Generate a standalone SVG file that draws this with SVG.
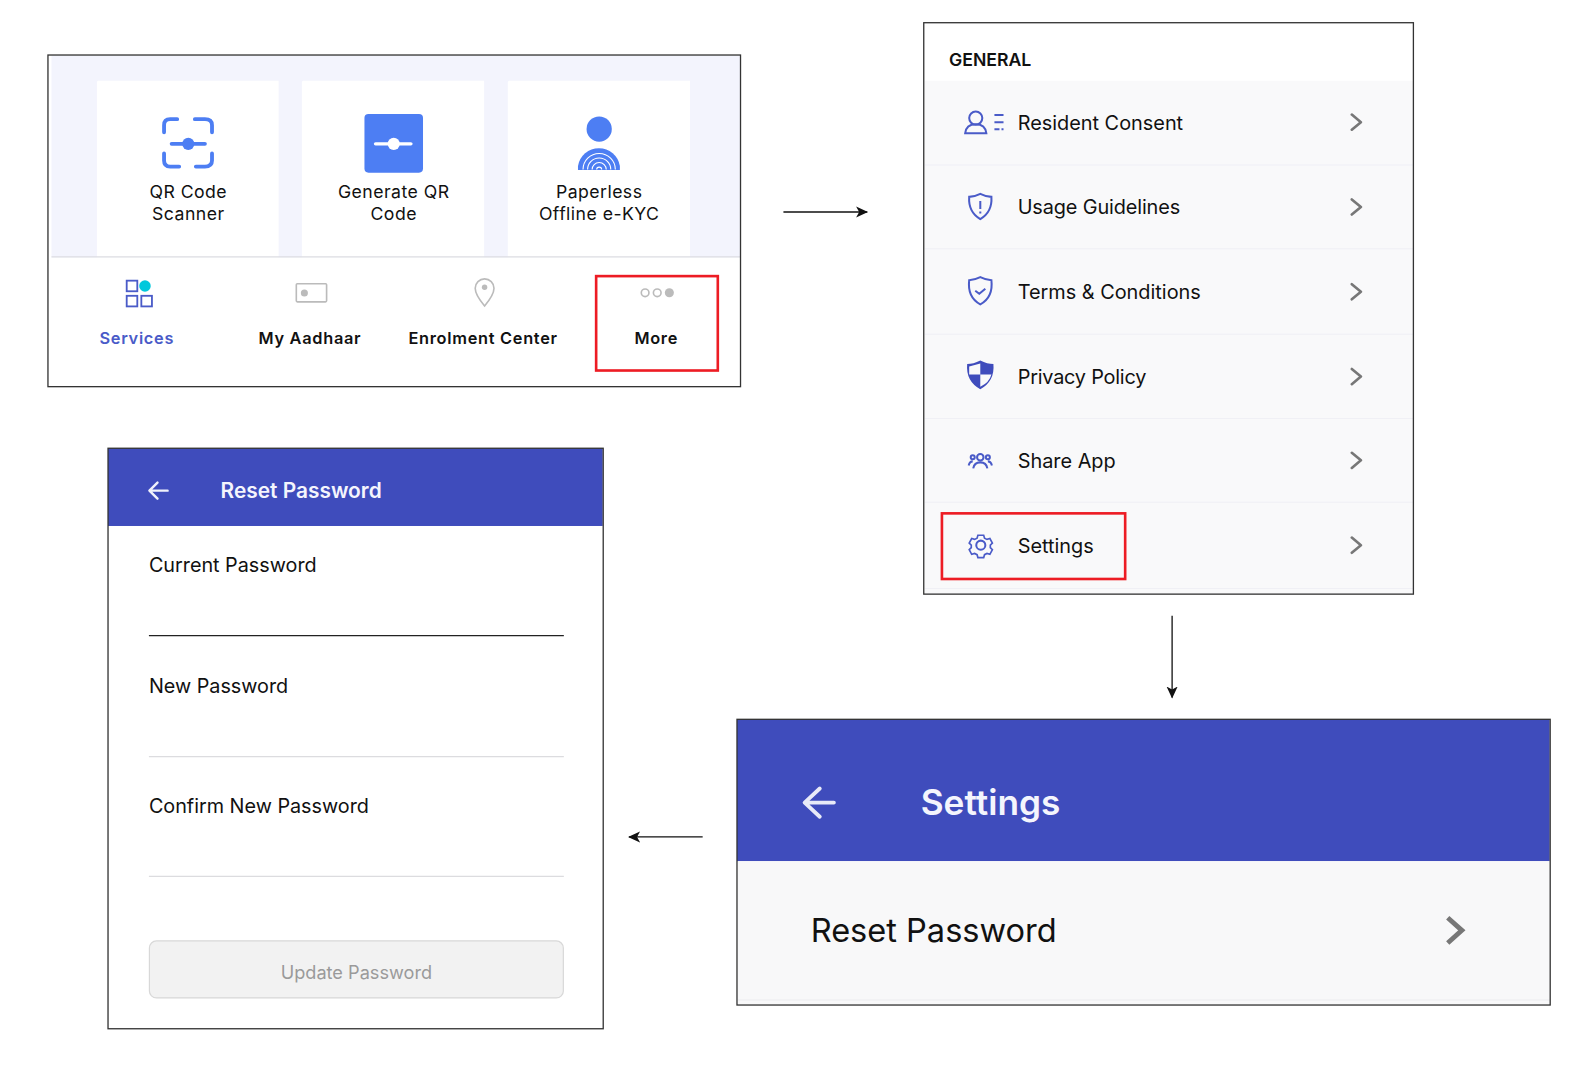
<svg xmlns="http://www.w3.org/2000/svg" width="1583" height="1069" viewBox="0 0 1583 1069">
<style>
text{font-family:Inter,"Liberation Sans",sans-serif;fill:#111}
.frame{fill:none;stroke:#333;stroke-width:1.3}
.red{fill:none;stroke:#ed1c24;stroke-width:2.6}
.c{text-anchor:middle}
.m{font-size:17.5px;letter-spacing:.45px}
.t{font-size:16.2px;font-weight:600;letter-spacing:.7px}
.g{font-size:19.7px}
.f{font-size:19.6px}
.card{fill:#fff}
.row{stroke:#f0f0f5;stroke-width:1}
.ch{fill:none;stroke:#777;stroke-width:2.6;stroke-linecap:round;stroke-linejoin:round}
.ic{fill:none;stroke:#4a5bc8;stroke-width:2}
.bl{fill:none;stroke:#4d7ef3;stroke-width:3.8;stroke-linecap:round}
.gr{fill:none;stroke:#bbb;stroke-width:1.6}
.a{fill:none;stroke:#111;stroke-width:1.3}
</style>
<defs>
<marker id="arr" markerWidth="12" markerHeight="12" refX="11" refY="6" orient="auto" markerUnits="userSpaceOnUse"><path d="M0 .5L12 6L0 11.5L3 6Z" fill="#111"/></marker>
</defs>
<rect width="1583" height="1069" fill="#fff"/>
<g transform="scale(1.00957)">
<g id="screen-services">
<rect x="51" y="55" width="683" height="200" fill="#f3f4fd"/>
<path class="card" d="M97 80h179v175H96V81zM300 80h179.500v175H299V81zM504 80h179.500v175H503V81z"/>
<line x1="51" y1="254.500" x2="734" y2="254.500" stroke="#dcdde2" stroke-width="1.300"/>
<g id="icon-qr"><path class="bl" d="M162.500 131v-7q0-6 6-6h7M193 118h10q7 0 7 6v7M162.500 152v7q0 6 6 6h9M210 152v7q0 6-7 6h-9M170 142.500h33"/><circle cx="186.500" cy="142.500" r="6" fill="#4d7ef3"/></g>
<g id="icon-gen"><rect x="361" y="113" width="58" height="58" rx="4" fill="#4d7ef3"/><path d="M372 142.500h35" stroke="#fff" stroke-width="3.400" stroke-linecap="round"/><circle cx="390" cy="142.500" r="6" fill="#fff"/></g>
<g id="icon-kyc"><circle cx="593.500" cy="127.800" r="12.500" fill="#4d7ef3"/><path d="M572.500 168.500v-4a21 21 0 0 1 41.500 0v4Z" fill="#4d7ef3"/><path d="M577.500 168a16 16 0 0 1 32 0M582 168a11.500 11.500 0 0 1 23 0M586.500 168a7 7 0 0 1 14 0M591 168a2.500 2.500 0 0 1 5 0" fill="none" stroke="#fff" stroke-width="1.100"/></g>
<text class="m c" x="186.500" y="196">QR Code</text>
<text class="m c" x="186.500" y="218">Scanner</text>
<text class="m c" x="390" y="196">Generate QR</text>
<text class="m c" x="390" y="218">Code</text>
<text class="m c" x="593.500" y="196">Paperless</text>
<text class="m c" x="593.500" y="218">Offline e-KYC</text>
<g id="icon-services" fill="none" stroke="#4a5bc8" stroke-width="1.800"><rect x="125.500" y="278" width="10.500" height="10.500"/><rect x="125.500" y="293" width="10.500" height="10.500"/><rect x="140" y="293" width="10.500" height="10.500"/><circle cx="143.600" cy="283.300" r="5.700" fill="#00c8dc" stroke="none"/></g>
<g id="icon-aadhaar"><rect x="293.500" y="281" width="30" height="18" rx="1" class="gr" stroke-width="1.800"/><circle cx="301.500" cy="290.300" r="3.500" fill="#bbb"/></g>
<g id="icon-pin"><path class="gr" d="M480 303q-9.300-11-9.300-17.500a9.300 9.300 0 0 1 18.600 0q0 6.500-9.300 17.500Z"/><circle cx="480" cy="284.500" r="2.700" fill="#bbb"/></g>
<g id="icon-more"><circle cx="639" cy="290" r="3.800" class="gr"/><circle cx="651" cy="290" r="3.800" class="gr"/><circle cx="663" cy="290" r="4.500" fill="#bbb"/></g>
<text class="t c" x="135.500" y="341" style="fill:#4a5bc8">Services</text>
<text class="t c" x="307" y="341">My Aadhaar</text>
<text class="t c" x="478.500" y="341">Enrolment Center</text>
<text class="t c" x="650" y="341">More</text>
<rect class="red" x="590.500" y="273.500" width="120.500" height="93.500"/>
<rect class="frame" x="47.500" y="54.500" width="686" height="328.500"/>
</g>
<g id="screen-general">
<rect x="916" y="80" width="484" height="508" fill="#f9f9fa"/>
<text x="940" y="65.500" style="font-size:17.500px;font-weight:600">GENERAL</text>
<path class="row" d="M916 163.500h484M916 246.500h484M916 331h484M916 414.500h484M916 497.500h484M916 583h484"/>
<g class="g">
<text x="1008" y="128.500">Resident Consent</text>
<text x="1008" y="212" textLength="161">Usage Guidelines</text>
<text x="1008" y="296">Terms &amp; Conditions</text>
<text x="1008" y="380" textLength="127.500">Privacy Policy</text>
<text x="1008" y="463.500">Share App</text>
<text x="1008" y="547.500">Settings</text>
</g>
<path class="ch" d="M1339 113.500l9 7.500-9 7.500M1339 197.500l9 7.500-9 7.500M1339 281.500l9 7.500-9 7.500M1339 365.500l9 7.500-9 7.500M1339 448.500l9 7.500-9 7.500M1339 532.500l9 7.500-9 7.500"/>
<g id="icon-consent"><circle cx="966.500" cy="117" r="6.500" class="ic"/><path class="ic" d="M956 132q1-9 10.500-9T977 132Z"/><path class="ic" d="M985 114h9M985 121h9M985 128h5M992 128h2"/></g>
<g id="icon-usage"><path class="ic" d="M971 192q6 3 11 3 1 15-11 22-12-7-11-22 5 0 11-3ZM971 199v8M971 209.500v2"/></g>
<g id="icon-terms"><path class="ic" d="M971 274.500q6 3 11 3 2 17-11 24-13-7-11-24 5 0 11-3ZM966 288l4 3 6-5"/></g>
<g id="icon-privacy"><path d="M971 357q7 3.500 13 3.500 1.500 17-13 25-14.500-8-13-25 6 0 13-3.500Z" fill="#3f4cbc"/><path d="M971 360v11h-11q0-5 0-8ZM971 371h11q-2 8-11 12Z" fill="#f9f9fa"/></g>
<g id="icon-share"><circle cx="971" cy="453" r="3.200" class="ic" stroke-width="1.100"/><path class="ic" stroke-width="1.100" d="M964 464q1-6 7-6t7 6"/><circle cx="963.500" cy="453" r="2" class="ic" stroke-width=".8"/><circle cx="978.500" cy="453" r="2" class="ic" stroke-width=".8"/><path class="ic" stroke-width=".8" d="M959.500 461q1-4 4-4M982.500 461q-1-4-4-4"/></g>
<g id="icon-gear"><path class="ic" stroke-width="2" d="M968 528h7l1 3.500 3 1.500 3.500-1 3 5.500-2.500 2.500v3l2.500 2.500-3 5.500-3.500-1-3 1.500-1 3.500h-7l-1-3.500-3-1.500-3.500 1-3-5.500 2.500-2.500v-3l-2.500-2.500 3-5.500 3.500 1 3-1.500Z" transform="translate(971.500 540) scale(.82) translate(-971.500 -540)"/><circle cx="971.500" cy="540" r="4.500" class="ic" stroke-width="1.700"/></g>
<rect class="red" x="933" y="508.500" width="181.500" height="65"/>
<rect class="frame" x="915" y="22.500" width="485" height="566"/>
</g>
<g id="screen-settings">
<rect x="730" y="712.500" width="805" height="140.500" fill="#3f4cbc"/>
<rect x="731" y="853" width="804" height="142" fill="#f8f8f9"/>
<line x1="731" y1="990.500" x2="1535" y2="990.500" stroke="#ececf0"/>
<path d="M826 795h-28M812 781l-15 14 15 14" fill="none" stroke="#e8eaf8" stroke-width="3.800" stroke-linecap="round" stroke-linejoin="round"/>
<text x="912" y="807" style="font-size:34.900px;font-weight:600;fill:#f4f5fd">Settings</text>
<text x="803" y="933" style="font-size:32.250px">Reset Password</text>
<path d="M1434 909l14 12.500-14 12.500" fill="none" stroke="#777" stroke-width="4.800"/>
<rect class="frame" x="730" y="712.500" width="805.500" height="283"/>
</g>
<g id="screen-reset">
<rect x="107" y="444" width="490" height="77" fill="#3f4cbc"/>
<path d="M166 486h-17M156 478l-8 8 8 8" fill="none" stroke="#f0f1fb" stroke-width="2.400" stroke-linecap="round" stroke-linejoin="round"/>
<text x="218.500" y="493" style="font-size:20.700px;font-weight:600;fill:#f4f5fd">Reset Password</text>
<text class="f" x="147.500" y="567">Current Password</text>
<text class="f" x="147.500" y="686">New Password</text>
<text class="f" x="147.500" y="805">Confirm New Password</text>
<line x1="147.500" y1="629.500" x2="558.500" y2="629.500" stroke="#222" stroke-width="1.200"/>
<line x1="147.500" y1="749.500" x2="558.500" y2="749.500" stroke="#dcdcdf" stroke-width="1.200"/>
<line x1="147.500" y1="868" x2="558.500" y2="868" stroke="#dcdcdf" stroke-width="1.200"/>
<rect x="148" y="932" width="410" height="56.500" rx="7" fill="#f2f2f2" stroke="#d8d8d8" stroke-width="1.200"/>
<text class="c" x="353" y="970" style="font-size:18px;fill:#9a9a9a">Update Password</text>
<rect class="frame" x="107" y="444" width="490.500" height="575"/>
</g>
<g id="connectors">
<path class="a" d="M776 210H859" marker-end="url(#arr)"/>
<path class="a" d="M1161 610V691" marker-end="url(#arr)"/>
<path class="a" d="M696 829H623" marker-end="url(#arr)"/>
</g>
</g>
</svg>
